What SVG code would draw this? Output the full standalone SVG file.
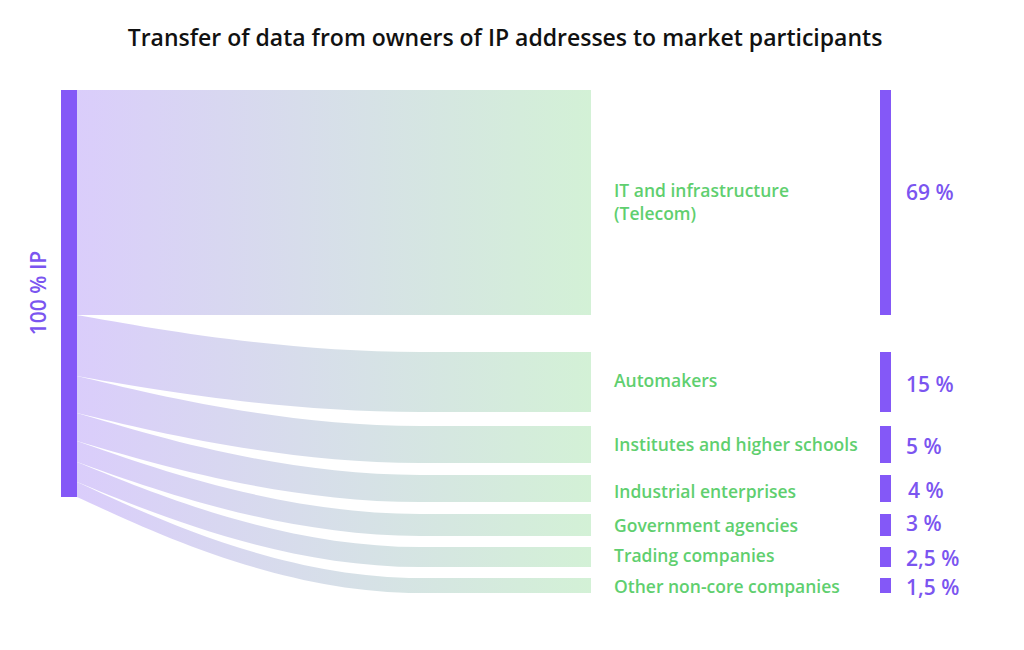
<svg xmlns="http://www.w3.org/2000/svg" width="1024" height="650" viewBox="0 0 1024 650">
<defs>
<linearGradient id="g" gradientUnits="userSpaceOnUse" x1="77" y1="0" x2="591" y2="0">
<stop offset="0" stop-color="#dacdfb"/><stop offset="1" stop-color="#d3f1d6"/>
</linearGradient>
<style>
.f{fill:url(#g)}
.bar{fill:#8458f7}
.lbl{font-family:"Open Sans",sans-serif;font-weight:600;font-size:17.5px;fill:#5fcf6f}
.pct{font-family:"Open Sans",sans-serif;font-weight:600;font-size:21px;fill:#7b55f0}
</style>
</defs>
<rect width="1024" height="650" fill="#fff"/>
<text x="505" y="46" text-anchor="middle" font-family="Open Sans, sans-serif" font-weight="600" font-size="23" fill="#111">Transfer of data from owners of IP addresses to market participants</text>
<g id="connectors">
<path class="f" d="M77,90 H591 V315 H77 Z"/>
<path class="f" d="M77,315 C150,328 280,352 420,352 H591 V412 H420 C280,412 150,389 77,376 Z"/>
<path class="f" d="M77,376 C150,393.5 280,426 420,426 H591 V463 H420 C280,463 150,430.5 77,413 Z"/>
<path class="f" d="M77,413 C150,434.7 280,475 420,475 H591 V502 H420 C280,502 150,462.4 77,441 Z"/>
<path class="f" d="M77,441 C150,466.6 280,514 420,514 H591 V536 H420 C280,536 150,487.9 77,462 Z"/>
<path class="f" d="M77,462 C150,491.8 280,547 420,547 H591 V567 H420 C280,567 150,511.8 77,482 Z"/>
<path class="f" d="M77,482 C150,515.6 280,578 420,578 H591 V593 H420 C280,593 150,530.6 77,497 Z"/>
</g>
<g id="source"><rect class="bar" x="61" y="90" width="16" height="407"/>
<text class="pct" transform="translate(46,293) rotate(-90)" text-anchor="middle">100 % IP</text></g>
<g id="n1"><rect class="bar" x="880" y="90" width="11" height="225"/><text class="lbl" x="614" y="197">IT and infrastructure</text><text class="lbl" x="614" y="220">(Telecom)</text><text class="pct" x="906" y="200">69 %</text></g>
<g id="n2"><rect class="bar" x="880" y="352" width="11" height="60"/><text class="lbl" x="614" y="387">Automakers</text><text class="pct" x="906" y="392">15 %</text></g>
<g id="n3"><rect class="bar" x="880" y="426" width="11" height="37"/><text class="lbl" x="614" y="451">Institutes and higher schools</text><text class="pct" x="906" y="454">5 %</text></g>
<g id="n4"><rect class="bar" x="880" y="475" width="11" height="27"/><text class="lbl" x="614" y="498">Industrial enterprises</text><text class="pct" x="908" y="498">4 %</text></g>
<g id="n5"><rect class="bar" x="880" y="514" width="11" height="22"/><text class="lbl" x="614" y="532">Government agencies</text><text class="pct" x="906" y="531">3 %</text></g>
<g id="n6"><rect class="bar" x="880" y="547" width="11" height="20"/><text class="lbl" x="614" y="562">Trading companies</text><text class="pct" x="906" y="566">2,5 %</text></g>
<g id="n7"><rect class="bar" x="880" y="578" width="11" height="15"/><text class="lbl" x="614" y="593">Other non-core companies</text><text class="pct" x="906" y="595">1,5 %</text></g>
</svg>
